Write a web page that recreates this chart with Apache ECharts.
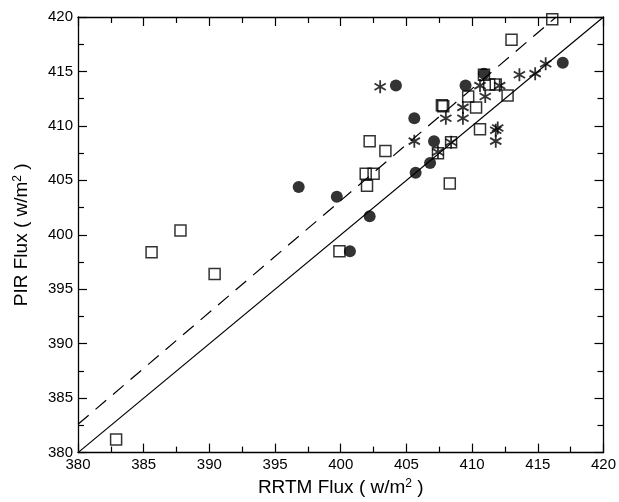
<!DOCTYPE html>
<html>
<head>
<meta charset="utf-8">
<script src="https://cdn.jsdelivr.net/npm/echarts@6/dist/echarts.min.js"></script>
<style>html,body{margin:0;padding:0;background:#fff;}#c{width:619px;height:502px;}</style>
</head>
<body>
<div id="c"></div>
<script>
// Data (RRTM flux, PIR flux) in W/m^2
var circles = [
  [396.8,404.4],[399.7,403.5],[402.2,401.7],[400.7,398.5],[404.2,413.7],
  [405.6,410.7],[405.7,405.7],[406.8,406.6],[407.1,408.6],[409.5,413.7],
  [410.9,414.8],[416.9,415.8]
];
var squares = [
  [382.9,381.2],[385.6,398.4],[387.8,400.4],[390.4,396.4],[399.9,398.5],
  [402.0,404.5],[401.9,405.6],[402.5,405.6],[402.2,408.6],[403.4,407.7],
  [407.4,407.5],[408.4,408.5],[408.3,404.7],[407.7,411.9],[407.8,411.8],
  [409.7,412.7],[410.3,411.7],[410.6,409.7],[411.3,413.8],[411.8,413.8],
  [412.7,412.8],[413.0,417.9],[416.1,419.8],[410.9,414.7]
];
var asterisks = [
  [403.0,413.6],[405.6,408.6],[407.4,407.6],[408.4,408.5],[408.0,410.7],
  [409.3,411.7],[409.3,410.7],[410.6,413.7],[411.0,412.7],[411.8,409.6],
  [411.95,409.8],[411.8,408.6],[412.1,413.7],[413.6,414.7],[414.8,414.8],
  [415.6,415.7]
];
var oneToOne = [[380,380],[420,420]];
var fitLine = [[380,382.6],[416.4,420]];
var axisMin = 380, axisMax = 420, axisStep = 5;

var FONT = '"Liberation Sans", Arial, Helvetica, sans-serif';
var asteriskPath = 'path://M5,0L5,10M0.67,2.5L9.33,7.5M0.67,7.5L9.33,2.5';

function mkAxis(pos, showLabel, name, nameGap, isY) {
  return {
    type: 'value', position: pos, min: axisMin, max: axisMax, interval: axisStep,
    name: name || '', nameLocation: 'middle', nameGap: nameGap || 0,
    nameTextStyle: {
      fontFamily: FONT, fontSize: 19, color: '#000',
      rich: { sup: { fontFamily: FONT, fontSize: 12, color: '#000', verticalAlign: 'top', padding: [0,0,8,0] } }
    },
    axisLine: { show: true, onZero: false, lineStyle: { color: '#000', width: 1.3 } },
    axisTick: { show: true, inside: true, length: 9, lineStyle: { color: '#000', width: 1.2 } },
    minorTick: { show: true, splitNumber: 2, length: 6, lineStyle: { color: '#000', width: 1.2 } },
    splitLine: { show: false },
    minorSplitLine: { show: false },
    axisLabel: { show: showLabel, fontFamily: FONT, fontSize: 15, color: '#000', margin: isY ? 5 : 5 }
  };
}

var chart = echarts.init(document.getElementById('c'), null, { renderer: 'canvas' });
chart.setOption({
  animation: false,
  backgroundColor: '#fff',
  grid: { left: 78, right: 14, top: 17, bottom: 43, containLabel: false },
  xAxis: [
    mkAxis('bottom', true, 'RRTM Flux ( w/m{sup|2} )', 22, false),
    mkAxis('top', false, '', 0, false)
  ],
  yAxis: [
    mkAxis('left', true, 'PIR Flux ( w/m{sup|2} )', 46, true),
    mkAxis('right', false, '', 0, true)
  ],
  series: [
    { type: 'line', data: oneToOne, symbol: 'none', lineStyle: { color: '#000', width: 1.2 }, z: 1 },
    { type: 'line', data: fitLine, symbol: 'none', lineStyle: { color: '#000', width: 1.2, type: [14, 9] }, z: 1 },
    { type: 'scatter', data: squares, symbol: 'rect', symbolSize: 11,
      itemStyle: { color: 'rgba(255,255,255,0)', borderColor: '#000', borderWidth: 1.5 }, z: 2 },
    { type: 'scatter', data: circles, symbol: 'circle', symbolSize: 12,
      itemStyle: { color: '#000' }, z: 3 },
    { type: 'scatter', data: asterisks, symbol: asteriskPath, symbolSize: 13, symbolKeepAspect: true,
      itemStyle: { color: 'rgba(0,0,0,0)', borderColor: '#000', borderWidth: 1.8 }, z: 4 }
  ]
});
</script>
</body>
</html>
